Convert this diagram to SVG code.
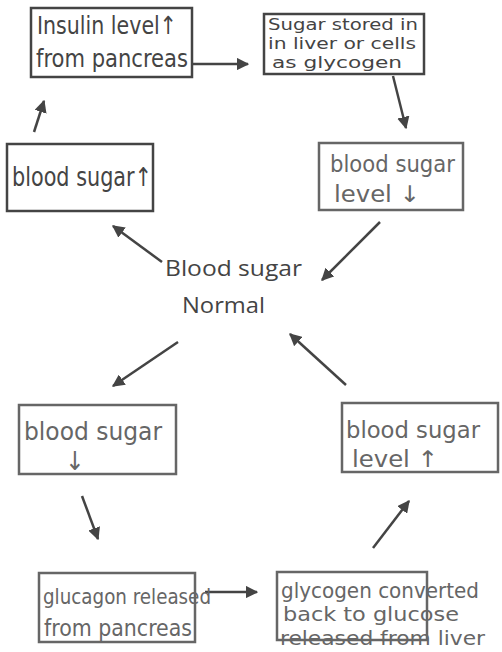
<svg xmlns="http://www.w3.org/2000/svg" width="502" height="652" viewBox="0 0 502 652">
<defs>
<marker id="ah" viewBox="0 0 10 10" refX="9" refY="5" markerWidth="5" markerHeight="5" orient="auto" markerUnits="strokeWidth">
<path d="M0,0 L10,5 L0,10 z" fill="#444"/>
</marker>
<style>
.bx{fill:#fff;stroke:#666;stroke-width:2.5}
.bd{stroke:#444}
.hw{font-family:"DejaVu Sans Condensed","Liberation Sans",sans-serif;fill:#666}
.dk{fill:#444}
.ctr{font-family:"Open Sans","Liberation Sans",sans-serif;fill:#444;font-size:22px}
.ar{stroke:#444;stroke-width:2.5;fill:none;marker-end:url(#ah)}
</style>
</defs>
<rect width="502" height="652" fill="#fff"/>
<g id="connectors">
<line class="ar" x1="190" y1="64" x2="248" y2="64"/>
<line class="ar" x1="393" y1="76" x2="406" y2="128"/>
<line class="ar" x1="34" y1="132" x2="44" y2="101"/>
<line class="ar" x1="162" y1="262" x2="113" y2="226"/>
<line class="ar" x1="380" y1="222" x2="322" y2="280"/>
<line class="ar" x1="178" y1="342" x2="113" y2="386"/>
<line class="ar" x1="346" y1="385" x2="290" y2="334"/>
<line class="ar" x1="82" y1="496" x2="98" y2="539"/>
<line class="ar" x1="205" y1="592" x2="257" y2="592"/>
<line class="ar" x1="373" y1="548" x2="409" y2="501"/>
</g>
<g id="n-insulin">
<rect class="bx bd" x="31" y="8" width="161" height="69"/>
<text class="hw dk" x="37" y="34" font-size="25" textLength="140" lengthAdjust="spacingAndGlyphs">Insulin level↑</text>
<text class="hw dk" x="36" y="67" font-size="25" textLength="152" lengthAdjust="spacingAndGlyphs">from pancreas</text>
</g>
<g id="n-stored">
<rect class="bx bd" x="264" y="14" width="160" height="60"/>
<text class="hw dk" x="268" y="30" font-size="16" textLength="150" lengthAdjust="spacingAndGlyphs">Sugar stored in</text>
<text class="hw dk" x="268" y="49" font-size="16" textLength="148" lengthAdjust="spacingAndGlyphs">in liver or cells</text>
<text class="hw dk" x="272" y="68" font-size="16" textLength="130" lengthAdjust="spacingAndGlyphs">as glycogen</text>
</g>
<g id="n-high">
<rect class="bx bd" x="7" y="144" width="146" height="67"/>
<text class="hw dk" x="12" y="186" font-size="26" textLength="140" lengthAdjust="spacingAndGlyphs">blood sugar↑</text>
</g>
<g id="n-level-down">
<rect class="bx" x="319" y="143" width="144" height="67"/>
<text class="hw" x="330" y="172" font-size="23" textLength="125" lengthAdjust="spacingAndGlyphs">blood sugar</text>
<text class="hw" x="334" y="202" font-size="23" textLength="86" lengthAdjust="spacingAndGlyphs">level ↓</text>
</g>
<g id="n-normal">
<text class="ctr" x="165" y="276" textLength="137" lengthAdjust="spacingAndGlyphs">Blood sugar</text>
<text class="ctr" x="182" y="313" textLength="83" lengthAdjust="spacingAndGlyphs">Normal</text>
</g>
<g id="n-low">
<rect class="bx" x="19" y="405" width="157" height="69"/>
<text class="hw" x="24" y="440" font-size="24" textLength="138" lengthAdjust="spacingAndGlyphs">blood sugar</text>
<text class="hw" x="65" y="470" font-size="26">↓</text>
</g>
<g id="n-level-up">
<rect class="bx" x="342" y="403" width="156" height="69"/>
<text class="hw" x="346" y="438" font-size="23" textLength="134" lengthAdjust="spacingAndGlyphs">blood sugar</text>
<text class="hw" x="352" y="467" font-size="23" textLength="86" lengthAdjust="spacingAndGlyphs">level ↑</text>
</g>
<g id="n-glucagon">
<rect class="bx" x="39" y="573" width="156" height="69"/>
<text class="hw" x="43" y="604" font-size="22" textLength="168" lengthAdjust="spacingAndGlyphs">glucagon released</text>
<text class="hw" x="44" y="636" font-size="23" textLength="148" lengthAdjust="spacingAndGlyphs">from pancreas</text>
</g>
<g id="n-converted">
<rect class="bx" x="277" y="572" width="150" height="68"/>
<text class="hw" x="281" y="598" font-size="21" textLength="198" lengthAdjust="spacingAndGlyphs">glycogen converted</text>
<text class="hw" x="283" y="621" font-size="19" textLength="176" lengthAdjust="spacingAndGlyphs">back to glucose</text>
<text class="hw" x="280" y="645" font-size="19" textLength="205" lengthAdjust="spacingAndGlyphs">released from liver</text>
</g>
</svg>
